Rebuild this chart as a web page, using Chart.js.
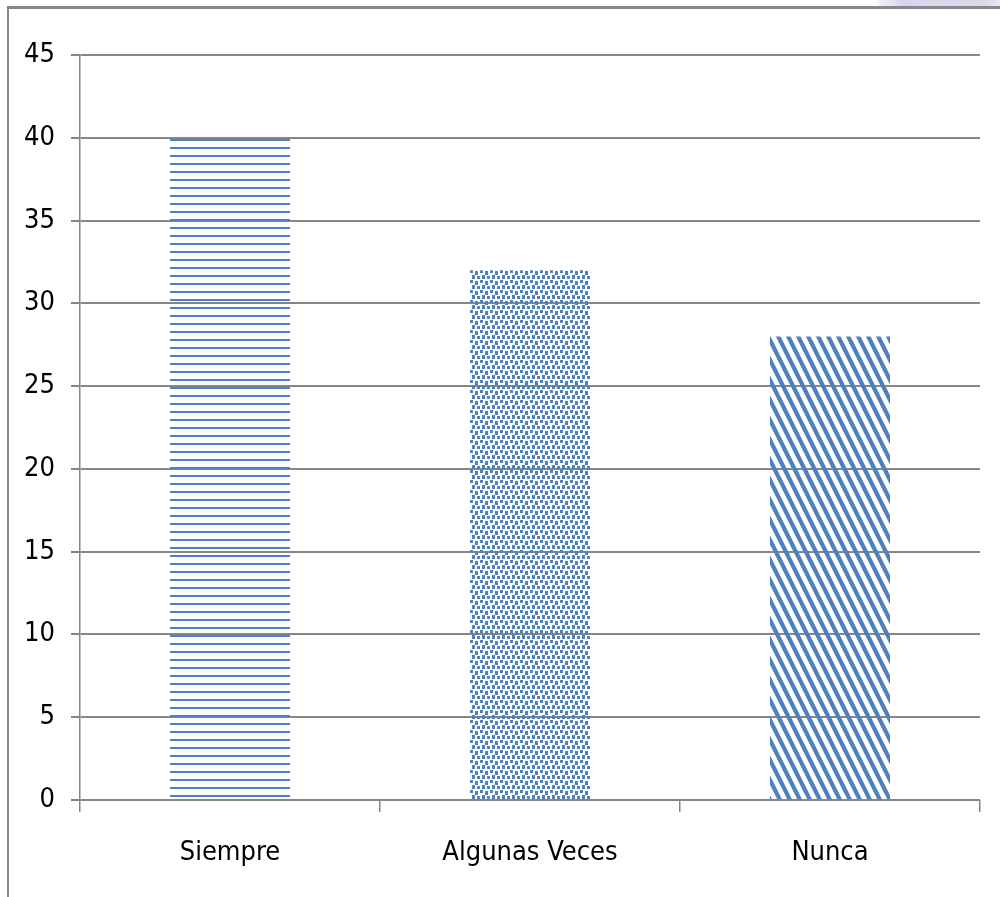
<!DOCTYPE html>
<html>
<head>
<meta charset="utf-8">
<title>Frecuencia</title>
<script src="https://cdn.jsdelivr.net/npm/chart.js@4/dist/chart.umd.min.js"></script>
<style>
  html, body { margin: 0; padding: 0; background: #fff; }
  #wrap { position: relative; width: 1000px; height: 897px; overflow: hidden; }
  #frameTop { position: absolute; left: 7px; top: 6px; width: 993px; height: 3px; background: #878787; }
  #frameLeft { position: absolute; left: 7px; top: 6px; width: 2px; height: 891px; background: #878787; }
  #corner { position: absolute; left: 878px; top: 0; width: 122px; height: 6px;
            background: linear-gradient(to right, #f3f1fa, #d9d5ec 20%, #dcd8ee 90%, #ece9f6); }
  canvas { position: absolute; left: 0; top: 0; }
</style>
</head>
<body>
<div id="wrap">
  <div id="corner"></div>
  <div id="frameTop"></div>
  <div id="frameLeft"></div>
  <canvas id="c" width="1000" height="897"></canvas>
</div>
<script>
// Survey answers and their counts
const categories = ['Siempre', 'Algunas Veces', 'Nunca'];
const values = [40, 32, 28];
const yMin = 0;
const yMax = 45;
const yStep = 5;

const BLUE = '#4F81BD';
const GRID = '#868686';
const FONT = "'Liberation Sans Narrow', 'DejaVu Sans Condensed', 'Liberation Sans', sans-serif";

function makeTile(w, h, draw) {
  const t = document.createElement('canvas');
  t.width = w; t.height = h;
  const g = t.getContext('2d');
  draw(g, w, h);
  return g.createPattern(t, 'repeat');
}

// Horizontal line hatch
const hLines = makeTile(8, 8, (g) => {
  g.fillStyle = BLUE;
  g.fillRect(0, 3, 8, 2);
});

// Staggered dot fill
const dots = makeTile(10, 10, (g) => {
  g.fillStyle = BLUE;
  g.fillRect(0, 0, 3, 3);
  g.fillRect(5, 1, 3, 4);
  g.fillRect(2, 5, 3, 4);
  g.fillRect(7, 6, 3, 3);
});

// Diagonal stripes running down to the right
const diag = makeTile(10, 20, (g) => {
  g.strokeStyle = BLUE;
  g.lineWidth = 4.3;
  for (let k = -3; k <= 3; k++) {
    g.beginPath();
    g.moveTo(k * 10 - 20, -40);
    g.lineTo(k * 10 + 20, 40);
    g.stroke();
  }
});

const fills = [hLines, dots, diag];

new Chart(document.getElementById('c'), {
  type: 'bar',
  data: {
    labels: categories,
    datasets: [{
      data: values,
      backgroundColor: fills,
      borderWidth: 0,
      barPercentage: 0.4,
      categoryPercentage: 1.0
    }]
  },
  options: {
    responsive: false,
    animation: false,
    devicePixelRatio: 1,
    layout: { padding: { left: 0, top: 55, right: 20, bottom: 0 } },
    plugins: { legend: { display: false }, tooltip: { enabled: false } },
    scales: {
      x: {
        offset: true,
        grid: {
          offset: true,
          drawOnChartArea: false,
          drawTicks: true,
          tickLength: 12,
          color: GRID,
          lineWidth: 1.5
        },
        border: { display: false },
        ticks: {
          color: '#000',
          padding: 25,
          font: { family: FONT, size: 27 }
        },
        afterFit: (s) => { s.height = 97; }
      },
      y: {
        min: yMin,
        max: yMax,
        ticks: {
          stepSize: yStep,
          color: '#000',
          padding: 16,
          font: { family: FONT, size: 27 }
        },
        grid: {
          color: GRID,
          lineWidth: 2,
          tickLength: 9
        },
        border: { display: true, color: GRID, width: 1.5 },
        afterFit: (s) => { s.width = 80; }
      }
    }
  }
});
</script>
</body>
</html>
